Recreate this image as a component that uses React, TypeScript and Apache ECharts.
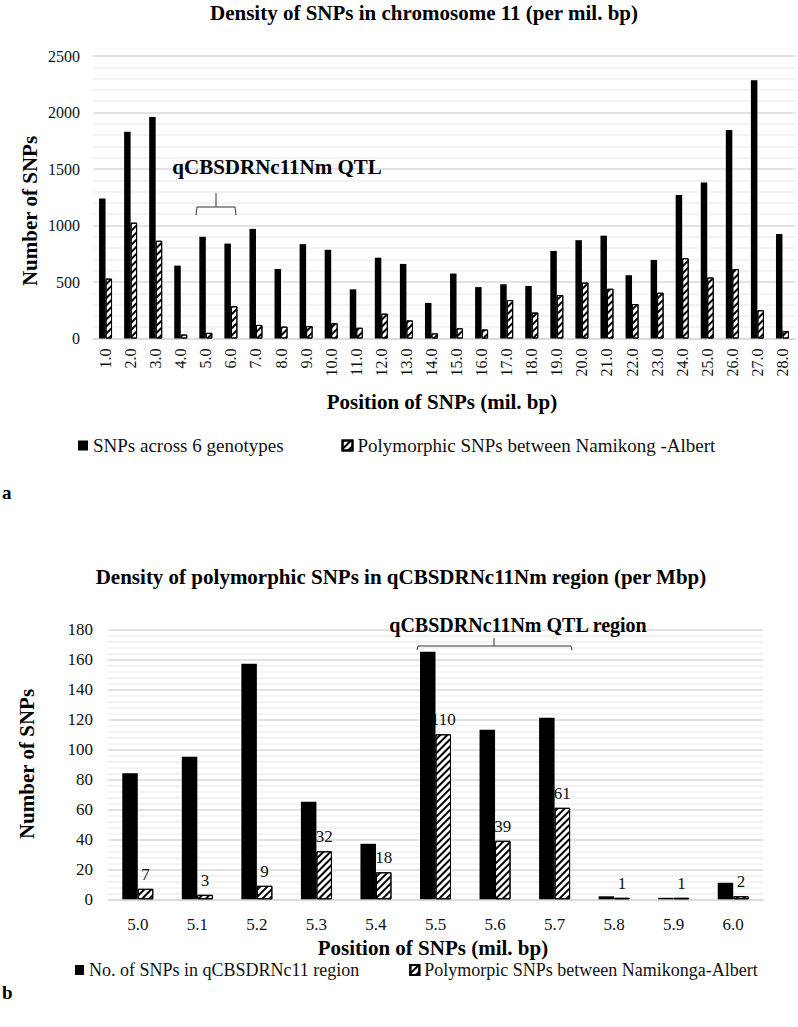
import React, { useEffect, useRef } from 'react';
import * as echarts from 'echarts';

const FONT = 'Liberation Serif';

// Panel a
const positionsA = ['1.0','2.0','3.0','4.0','5.0','6.0','7.0','8.0','9.0','10.0','11.0','12.0','13.0','14.0','15.0','16.0','17.0','18.0','19.0','20.0','21.0','22.0','23.0','24.0','25.0','26.0','27.0','28.0'];
const snpsAcross6 = [1240,1830,1960,645,900,840,970,615,835,785,435,715,660,315,575,455,480,465,775,870,910,560,695,1270,1380,1845,2285,925];
const polyNamikongAlbert = [530,1025,865,35,50,285,120,105,110,135,95,220,160,45,90,80,340,230,385,495,440,305,405,710,540,615,250,65];
const nameA1 = 'SNPs across 6 genotypes';
const nameA2 = 'Polymorphic SNPs between Namikong -Albert';

// Panel b
const positionsB = ['5.0','5.1','5.2','5.3','5.4','5.5','5.6','5.7','5.8','5.9','6.0'];
const snpsRegion = [84,95,157,65,37,165,113,121,2,1,11];
const polyRegion = [7,3,9,32,18,110,39,61,1,1,2];
const nameB1 = 'No. of SNPs in qCBSDRNc11 region';
const nameB2 = 'Polymorpic SNPs between Namikonga-Albert';

export default function App() {
  const ref = useRef<HTMLDivElement>(null);
  useEffect(() => {
    const chart = echarts.init(ref.current!, null, { renderer: 'svg' });
    const hatch = {
      symbol: 'rect', symbolSize: 1, color: '#000', backgroundColor: '#fff',
      dashArrayX: [1, 0], dashArrayY: [1.6, 2.2], rotation: -Math.PI / 4,
    };
    const yAx = (grid: number, max: number, interval: number, margin: number, size: number) => ({
      type: 'value', gridIndex: grid, min: 0, max, interval,
      axisLine: { show: false }, axisTick: { show: false },
      axisLabel: { fontSize: size, fontFamily: FONT, color: '#111', margin, formatter: (v: number) => String(v) },
      splitLine: { lineStyle: { color: '#d9d9d9', width: 1.5 } },
      minorTick: { show: false, splitNumber: 5 },
      minorSplitLine: { show: true, lineStyle: { color: '#efefef', width: 1.5 } },
    });
    const txt = (text: string, x: number, y: number, size: number, bold = true, rot = 0, align = 'center') => ({
      type: 'text', x, y, rotation: rot, z: 100,
      style: { text, fontSize: size, fontWeight: bold ? 'bold' : 'normal', fontFamily: FONT, fill: '#000', textAlign: align, textVerticalAlign: 'middle' },
    });
    const line = (pts: number[][]) => ({
      type: 'polyline', shape: { points: pts }, z: 100,
      style: { stroke: '#333', lineWidth: 1, fill: 'none' },
    });
    chart.setOption({
      animation: false,
      backgroundColor: '#fff',
      textStyle: { fontFamily: FONT },
      grid: [
        { left: 93, top: 56, width: 702, height: 282.5 },
        { left: 108, top: 629.3, width: 655, height: 270 },
      ],
      xAxis: [
        {
          type: 'category', gridIndex: 0, data: positionsA,
          axisLine: { lineStyle: { color: '#d9d9d9', width: 1.5 } }, axisTick: { show: false },
          axisLabel: { rotate: 90, interval: 0, fontSize: 16, fontFamily: FONT, color: '#111', margin: 10 },
        },
        {
          type: 'category', gridIndex: 1, data: positionsB,
          axisLine: { lineStyle: { color: '#d9d9d9', width: 1.5 } }, axisTick: { show: false },
          axisLabel: { interval: 0, fontSize: 17, fontFamily: FONT, color: '#111', margin: 17 },
        },
      ],
      yAxis: [yAx(0, 2500, 500, 13, 16), yAx(1, 180, 20, 15, 17)],
      legend: [
        {
          data: [nameA1, nameA2], left: 73, top: 431, itemWidth: 10, itemHeight: 10, itemGap: 58, icon: 'rect',
          textStyle: { fontSize: 19, fontFamily: FONT, color: '#111' },
        },
        {
          data: [nameB1, nameB2], left: 70, top: 956, itemWidth: 9, itemHeight: 10, itemGap: 50, icon: 'rect',
          textStyle: { fontSize: 18, fontFamily: FONT, color: '#111' },
        },
      ],
      series: [
        {
          type: 'bar', name: nameA1, xAxisIndex: 0, yAxisIndex: 0, data: snpsAcross6,
          barWidth: 6.5, barGap: '0%', itemStyle: { color: '#000' },
        },
        {
          type: 'bar', name: nameA2, xAxisIndex: 0, yAxisIndex: 0, data: polyNamikongAlbert,
          barWidth: 6.5, barGap: '0%', itemStyle: { color: '#fff', borderColor: '#000', borderWidth: 1, decal: hatch },
        },
        {
          type: 'bar', name: nameB1, xAxisIndex: 1, yAxisIndex: 1, data: snpsRegion,
          barWidth: 15.5, barGap: '0%', itemStyle: { color: '#000' },
        },
        {
          type: 'bar', name: nameB2, xAxisIndex: 1, yAxisIndex: 1, data: polyRegion,
          barWidth: 15.5, barGap: '0%', itemStyle: { color: '#fff', borderColor: '#000', borderWidth: 1, decal: hatch },
          label: { show: true, position: 'top', distance: 6, fontSize: 17, fontFamily: FONT, color: '#111' },
        },
      ],
      graphic: [
        txt('Density of SNPs in chromosome 11 (per mil. bp)', 424, 13, 21),
        txt('Number of SNPs', 30, 211, 21, true, Math.PI / 2),
        txt('Position of SNPs (mil. bp)', 442, 402, 21),
        txt('qCBSDRNc11Nm QTL', 277, 167, 21),
        line([[196, 215], [197, 207], [235, 207], [236, 215]]),
        line([[216, 207], [216, 193]]),
        txt('a', 2, 492, 19, true, 0, 'left'),
        txt('Density of polymorphic SNPs in qCBSDRNc11Nm region (per Mbp)', 401, 577, 21),
        txt('Number of SNPs', 27, 764, 21, true, Math.PI / 2),
        txt('Position of SNPs (mil. bp)', 433, 948, 21),
        txt('qCBSDRNc11Nm QTL region', 518, 625, 20),
        line([[417, 650], [418, 646], [571, 646], [572, 650]]),
        line([[494, 646], [494, 638]]),
        txt('b', 2, 992, 19, true, 0, 'left'),
      ],
    });
    return () => chart.dispose();
  }, []);
  return <div ref={ref} style={{ position: 'absolute', left: 0, top: 0, width: 798, height: 1027, background: '#fff' }} />;
}
